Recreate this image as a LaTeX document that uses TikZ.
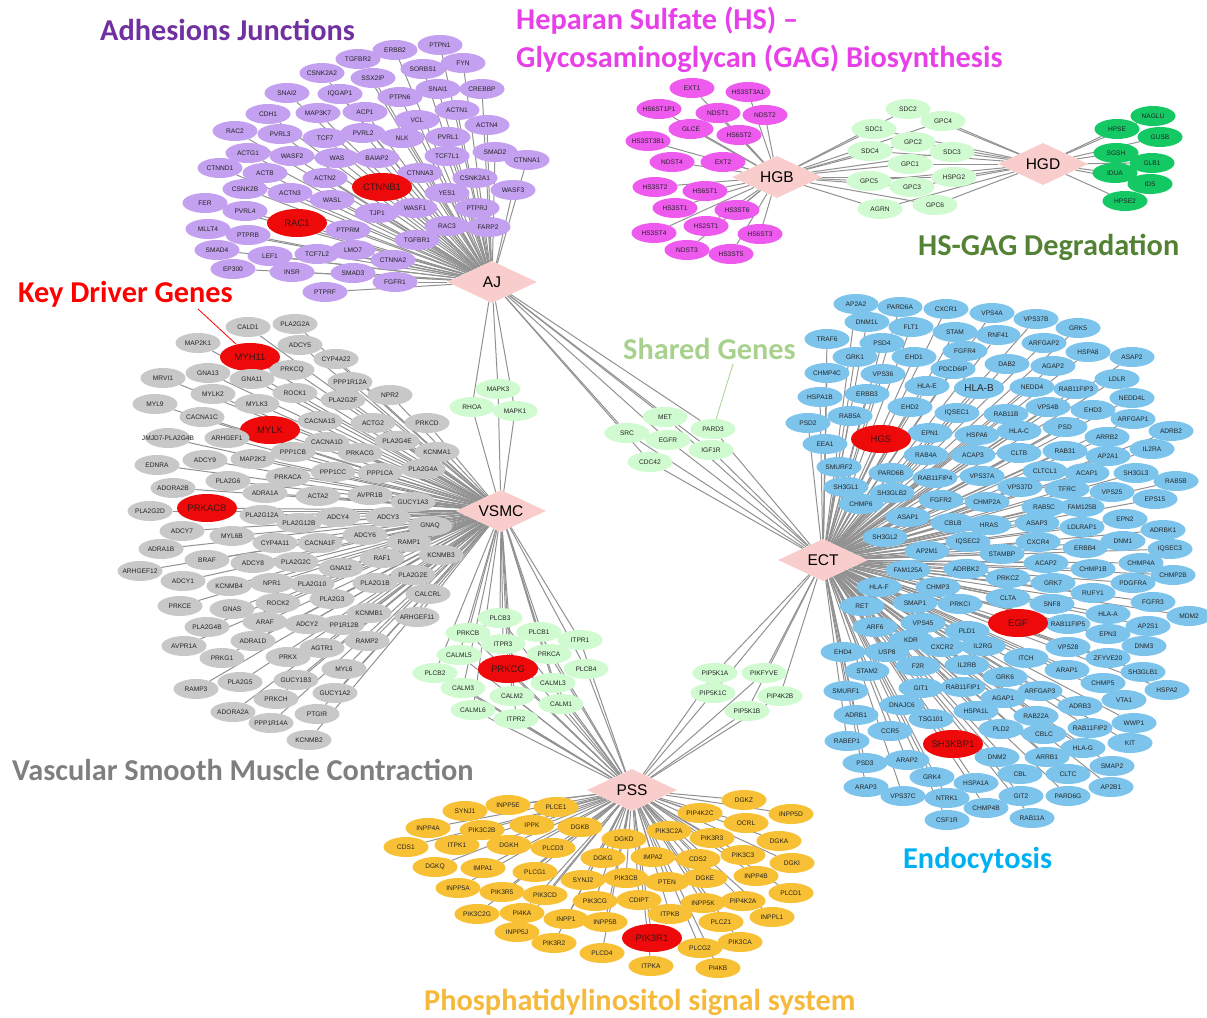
\documentclass[tikz,border=0pt]{standalone}
\usepackage{fontspec}
\setmainfont{Liberation Sans}
\newfontfamily\titlefont{Carlito}
\usetikzlibrary{shapes.geometric,backgrounds}
\definecolor{ajc}{RGB}{196,160,240}
\definecolor{hsc}{RGB}{238,90,238}
\definecolor{lgc}{RGB}{208,250,208}
\definecolor{dgc}{RGB}{20,200,100}
\definecolor{vsc}{RGB}{200,200,200}
\definecolor{ecc}{RGB}{125,196,236}
\definecolor{psc}{RGB}{248,192,52}
\definecolor{kdc}{RGB}{238,10,10}
\definecolor{hubc}{RGB}{250,205,205}
\definecolor{edgec}{RGB}{145,145,145}
\definecolor{ajt}{RGB}{112,48,160}
\definecolor{hst}{RGB}{232,64,232}
\definecolor{dgt}{RGB}{84,130,53}
\definecolor{kdt}{RGB}{255,0,0}
\definecolor{sgt}{RGB}{169,209,142}
\definecolor{vst}{RGB}{127,127,127}
\definecolor{ect}{RGB}{0,176,240}
\definecolor{pst}{RGB}{245,185,60}
\tikzset{
  gene/.style={ellipse, draw=none, minimum width=45pt, minimum height=20pt, inner sep=0pt},
  aj/.style={gene, fill=ajc},
  hs/.style={gene, fill=hsc},
  lg/.style={gene, fill=lgc},
  dg/.style={gene, fill=dgc},
  vs/.style={gene, fill=vsc},
  ec/.style={gene, fill=ecc},
  ps/.style={gene, fill=psc},
  kdnode/.style={ellipse, fill=kdc, minimum width=60pt, minimum height=28pt, inner sep=0pt},
  gt/.style={font=\fontsize{6.6}{7}\selectfont, inner sep=0pt, text={rgb,255:red,35;green,35;blue,35}},
  kt/.style={font=\fontsize{9.5}{10}\selectfont, inner sep=0pt, text={rgb,255:red,60;green,20;blue,20}},
  hub/.style={diamond, aspect=2, fill=hubc, minimum width=90pt, minimum height=42pt, inner sep=0pt, font=\fontsize{15.5}{16}\selectfont},
  edge/.style={draw=edgec, line width=1pt},
  title/.style={anchor=base west, inner sep=0pt, font=\titlefont\bfseries\fontsize{30.3}{31}\selectfont},
}
\makeatletter
\gdef\edgelist{}
\newcommand\addedge[2]{\edef\tmpedge{\noexpand\draw[edge] (#1) -- (#2);}\expandafter\g@addto@macro\expandafter\edgelist\expandafter{\tmpedge}}
\makeatother
\newcommand\gnode[5]{%
  \node[#1] (#4) at (#2,#3) {};
  \node[gt] at (#2,#3) {#4};
  \foreach \hb in {#5}{\addedge{\hb}{#4}}}
\newcommand\knode[4]{%
  \node[kdnode] (#3) at (#1,#2) {};
  \node[kt] at (#1,#2) {#3};
  \foreach \hb in {#4}{\addedge{\hb}{#3}}}
\begin{document}
\begin{tikzpicture}[x=1pt,y=-1pt]
\useasboundingbox (0,0) rectangle (1207,1017);
% hubs
\node[hub] (AJ) at (492,282) {AJ};
\node[hub] (HGB) at (777,177) {HGB};
\node[hub] (HGD) at (1043,164) {HGD};
\node[hub] (VSMC) at (501,511) {VSMC};
\node[hub] (ECT) at (823,560) {ECT};
\node[hub] (PSS) at (632,790) {PSS};
% titles
\node[title, text=ajt] (tAJ) at (100,40) {Adhesions Junctions};
\node[title, text=hst] (tHS1) at (516,29) {Heparan Sulfate (HS) –};
\node[title, text=hst] (tHS2) at (516,67) {Glycosaminoglycan (GAG) Biosynthesis};
\node[title, text=dgt] (tHD) at (918,255) {HS-GAG Degradation};
\node[title, text=kdt] (tKD) at (18,302) {Key Driver Genes};
\node[title, text=sgt] (tSG) at (623,359) {Shared Genes};
\node[title, text=vst] (tVS) at (12,780) {Vascular Smooth Muscle Contraction};
\node[title, text=ect] (tEC) at (903,868) {Endocytosis};
\node[title, text=pst] (tPS) at (424,1010) {Phosphatidylinositol signal system};
% AJ
\gnode{aj}{440}{45}{PTPN1}{AJ}
\gnode{aj}{395}{50}{ERBB2}{AJ}
\gnode{aj}{463}{63}{FYN}{AJ}
\gnode{aj}{358}{59}{TGFBR2}{AJ}
\gnode{aj}{423}{69}{SORBS1}{AJ}
\gnode{aj}{322}{73}{CSNK2A2}{AJ}
\gnode{aj}{373}{78}{SSX2IP}{AJ}
\gnode{aj}{438}{89}{SNAI1}{AJ}
\gnode{aj}{482}{89}{CREBBP}{AJ}
\gnode{aj}{287}{93}{SNAI2}{AJ}
\gnode{aj}{340}{94}{IQGAP1}{AJ}
\gnode{aj}{400}{97}{PTPN6}{AJ}
\gnode{aj}{268}{114}{CDH1}{AJ}
\gnode{aj}{318}{113}{MAP3K7}{AJ}
\gnode{aj}{365}{112}{ACP1}{AJ}
\gnode{aj}{457}{110}{ACTN1}{AJ}
\gnode{aj}{417}{120}{VCL}{AJ}
\gnode{aj}{487}{125}{ACTN4}{AJ}
\gnode{aj}{235}{131}{RAC2}{AJ}
\gnode{aj}{280}{134}{PVRL3}{AJ}
\gnode{aj}{325}{138}{TCF7}{AJ}
\gnode{aj}{363}{133}{PVRL2}{AJ}
\gnode{aj}{402}{138}{NLK}{AJ}
\gnode{aj}{448}{137}{PVRL1}{AJ}
\gnode{aj}{495}{152}{SMAD2}{AJ}
\gnode{aj}{527}{160}{CTNNA1}{AJ}
\gnode{aj}{248}{153}{ACTG1}{AJ}
\gnode{aj}{292}{156}{WASF2}{AJ}
\gnode{aj}{337}{158}{WAS}{AJ}
\gnode{aj}{377}{158}{BAIAP2}{AJ}
\gnode{aj}{447}{156}{TCF7L1}{AJ}
\gnode{aj}{220}{168}{CTNND1}{AJ}
\gnode{aj}{265}{173}{ACTB}{AJ}
\gnode{aj}{325}{178}{ACTN2}{AJ}
\gnode{aj}{420}{173}{CTNNA3}{AJ}
\gnode{aj}{475}{178}{CSNK2A1}{AJ}
\gnode{aj}{513}{190}{WASF3}{AJ}
\knode{382}{187}{CTNNB1}{AJ}
\gnode{aj}{245}{189}{CSNK2B}{AJ}
\gnode{aj}{290}{193}{ACTN3}{AJ}
\gnode{aj}{332}{200}{WASL}{AJ}
\gnode{aj}{447}{193}{YES1}{AJ}
\gnode{aj}{205}{203}{FER}{AJ}
\gnode{aj}{245}{211}{PVRL4}{AJ}
\knode{297}{223}{RAC1}{AJ}
\gnode{aj}{415}{208}{WASF1}{AJ}
\gnode{aj}{477}{208}{PTPRJ}{AJ}
\gnode{aj}{377}{213}{TJP1}{AJ}
\gnode{aj}{208}{229}{MLLT4}{AJ}
\gnode{aj}{248}{235}{PTPRB}{AJ}
\gnode{aj}{348}{230}{PTPRM}{AJ}
\gnode{aj}{447}{226}{RAC3}{AJ}
\gnode{aj}{488}{227}{FARP2}{AJ}
\gnode{aj}{417}{240}{TGFBR1}{AJ}
\gnode{aj}{217}{250}{SMAD4}{AJ}
\gnode{aj}{270}{256}{LEF1}{AJ}
\gnode{aj}{317}{254}{TCF7L2}{AJ}
\gnode{aj}{353}{250}{LMO7}{AJ}
\gnode{aj}{393}{260}{CTNNA2}{AJ}
\gnode{aj}{233}{269}{EP300}{AJ}
\gnode{aj}{292}{272}{INSR}{AJ}
\gnode{aj}{353}{273}{SMAD3}{AJ}
\gnode{aj}{395}{282}{FGFR1}{AJ}
\gnode{aj}{325}{292}{PTPRF}{AJ}
% HGB
\gnode{hs}{692}{88}{EXT1}{HGB}
\gnode{hs}{748}{92}{HS3ST3A1}{HGB}
\gnode{hs}{659}{109}{HS6ST1P1}{HGB}
\gnode{hs}{718}{113}{NDST1}{HGB}
\gnode{hs}{765}{115}{NDST2}{HGB}
\gnode{hs}{691}{129}{GLCE}{HGB}
\gnode{hs}{739}{135}{HS6ST2}{HGB}
\gnode{hs}{648}{141}{HS3ST3B1}{HGB}
\gnode{hs}{672}{162}{NDST4}{HGB}
\gnode{hs}{723}{162}{EXT2}{HGB}
\gnode{hs}{655}{187}{HS3ST2}{HGB}
\gnode{hs}{705}{191}{HS6ST1}{HGB}
\gnode{hs}{675}{208}{HS3ST1}{HGB}
\gnode{hs}{737}{210}{HS3ST6}{HGB}
\gnode{hs}{706}{226}{HS2ST1}{HGB}
\gnode{hs}{654}{233}{HS3ST4}{HGB}
\gnode{hs}{760}{234}{HS6ST3}{HGB}
\gnode{hs}{687}{250}{NDST3}{HGB}
\gnode{hs}{731}{254}{HS3ST5}{HGB}
% shared HGB-HGD
\gnode{lg}{874}{129}{SDC1}{HGB,HGD}
\gnode{lg}{870}{151}{SDC4}{HGB,HGD}
\gnode{lg}{869}{181}{GPC5}{HGB,HGD}
\gnode{lg}{880}{209}{AGRN}{HGB,HGD}
\gnode{lg}{908}{109}{SDC2}{HGB,HGD}
\gnode{lg}{943}{121}{GPC4}{HGB,HGD}
\gnode{lg}{913}{142}{GPC2}{HGB,HGD}
\gnode{lg}{952}{152}{SDC3}{HGB,HGD}
\gnode{lg}{910}{164}{GPC1}{HGB,HGD}
\gnode{lg}{954}{177}{HSPG2}{HGB,HGD}
\gnode{lg}{912}{187}{GPC3}{HGB,HGD}
\gnode{lg}{935}{205}{GPC6}{HGB,HGD}
% HGD
\gnode{dg}{1117}{129}{HPSE}{HGD}
\gnode{dg}{1153}{116}{NAGLU}{HGD}
\gnode{dg}{1160}{137}{GUSB}{HGD}
\gnode{dg}{1116}{153}{SGSH}{HGD}
\gnode{dg}{1152}{163}{GLB1}{HGD}
\gnode{dg}{1115}{173}{IDUA}{HGD}
\gnode{dg}{1150}{184}{IDS}{HGD}
\gnode{dg}{1125}{201}{HPSE2}{HGD}
% VSMC
\gnode{vs}{248}{327}{CALD1}{VSMC}
\gnode{vs}{295}{324}{PLA2G2A}{VSMC}
\gnode{vs}{198}{343}{MAP2K1}{VSMC}
\knode{250}{357}{MYH11}{VSMC}
\gnode{vs}{300}{345}{ADCY5}{VSMC}
\gnode{vs}{336}{359}{CYP4A22}{VSMC}
\gnode{vs}{163}{378}{MRVI1}{VSMC}
\gnode{vs}{208}{373}{GNA13}{VSMC}
\gnode{vs}{252}{379}{GNA11}{VSMC}
\gnode{vs}{292}{370}{PRKCQ}{VSMC}
\gnode{vs}{350}{382}{PPP1R12A}{VSMC}
\gnode{vs}{213}{394}{MYLK2}{VSMC}
\gnode{vs}{295}{393}{ROCK1}{VSMC}
\gnode{vs}{390}{395}{NPR2}{VSMC}
\gnode{vs}{343}{400}{PLA2G2F}{VSMC}
\gnode{vs}{155}{404}{MYL9}{VSMC}
\gnode{vs}{257}{404}{MYLK3}{VSMC}
\gnode{vs}{202}{417}{CACNA1C}{VSMC}
\knode{270}{430}{MYLK}{VSMC}
\gnode{vs}{320}{421}{CACNA1S}{VSMC}
\gnode{vs}{373}{423}{ACTG2}{VSMC}
\gnode{vs}{427}{423}{PRKCD}{VSMC}
\gnode{vs}{168}{438}{JMJD7-PLA2G4B}{VSMC}
\gnode{vs}{227}{438}{ARHGEF1}{VSMC}
\gnode{vs}{327}{442}{CACNA1D}{VSMC}
\gnode{vs}{397}{441}{PLA2G4E}{VSMC}
\gnode{vs}{437}{452}{KCNMA1}{VSMC}
\gnode{vs}{293}{452}{PPP1CB}{VSMC}
\gnode{vs}{360}{453}{PRKACG}{VSMC}
\gnode{vs}{253}{459}{MAP2K2}{VSMC}
\gnode{vs}{205}{460}{ADCY9}{VSMC}
\gnode{vs}{157}{465}{EDNRA}{VSMC}
\gnode{vs}{333}{472}{PPP1CC}{VSMC}
\gnode{vs}{380}{473}{PPP1CA}{VSMC}
\gnode{vs}{423}{469}{PLA2G4A}{VSMC}
\gnode{vs}{288}{477}{PRKACA}{VSMC}
\gnode{vs}{228}{481}{PLA2G6}{VSMC}
\gnode{vs}{173}{488}{ADORA2B}{VSMC}
\gnode{vs}{265}{493}{ADRA1A}{VSMC}
\gnode{vs}{318}{496}{ACTA2}{VSMC}
\gnode{vs}{370}{495}{AVPR1B}{VSMC}
\gnode{vs}{413}{502}{GUCY1A3}{VSMC}
\gnode{vs}{150}{511}{PLA2G2D}{VSMC}
\knode{207}{508}{PRKACB}{VSMC}
\gnode{vs}{262}{515}{PLA2G12A}{VSMC}
\gnode{vs}{299}{523}{PLA2G12B}{VSMC}
\gnode{vs}{338}{517}{ADCY4}{VSMC}
\gnode{vs}{388}{517}{ADCY3}{VSMC}
\gnode{vs}{430}{526}{GNAQ}{VSMC}
\gnode{vs}{182}{531}{ADCY7}{VSMC}
\gnode{vs}{232}{536}{MYL6B}{VSMC}
\gnode{vs}{275}{543}{CYP4A11}{VSMC}
\gnode{vs}{320}{543}{CACNA1F}{VSMC}
\gnode{vs}{365}{535}{ADCY6}{VSMC}
\gnode{vs}{409}{542}{RAMP1}{VSMC}
\gnode{vs}{441}{555}{KCNMB3}{VSMC}
\gnode{vs}{161}{549}{ADRA1B}{VSMC}
\gnode{vs}{207}{560}{BRAF}{VSMC}
\gnode{vs}{253}{563}{ADCY8}{VSMC}
\gnode{vs}{296}{562}{PLA2G2C}{VSMC}
\gnode{vs}{382}{558}{RAF1}{VSMC}
\gnode{vs}{341}{568}{GNA12}{VSMC}
\gnode{vs}{140}{571}{ARHGEF12}{VSMC}
\gnode{vs}{413}{575}{PLA2G2E}{VSMC}
\gnode{vs}{183}{581}{ADCY1}{VSMC}
\gnode{vs}{229}{586}{KCNMB4}{VSMC}
\gnode{vs}{272}{583}{NPR1}{VSMC}
\gnode{vs}{312}{584}{PLA2G10}{VSMC}
\gnode{vs}{375}{583}{PLA2G1B}{VSMC}
\gnode{vs}{428}{594}{CALCRL}{VSMC}
\gnode{vs}{180}{606}{PRKCE}{VSMC}
\gnode{vs}{232}{609}{GNAS}{VSMC}
\gnode{vs}{278}{603}{ROCK2}{VSMC}
\gnode{vs}{332}{599}{PLA2G3}{VSMC}
\gnode{vs}{342}{625}{PPP1R12B}{VSMC}
\gnode{vs}{369}{613}{KCNMB1}{VSMC}
\gnode{vs}{417}{617}{ARHGEF11}{VSMC}
\gnode{vs}{207}{627}{PLA2G4B}{VSMC}
\gnode{vs}{265}{622}{ARAF}{VSMC}
\gnode{vs}{307}{624}{ADCY2}{VSMC}
\gnode{vs}{184}{646}{AVPR1A}{VSMC}
\gnode{vs}{253}{641}{ADRA1D}{VSMC}
\gnode{vs}{322}{648}{AGTR1}{VSMC}
\gnode{vs}{367}{641}{RAMP2}{VSMC}
\gnode{vs}{222}{658}{PRKG1}{VSMC}
\gnode{vs}{288}{657}{PRKX}{VSMC}
\gnode{vs}{344}{669}{MYL6}{VSMC}
\gnode{vs}{196}{689}{RAMP3}{VSMC}
\gnode{vs}{240}{682}{PLA2G5}{VSMC}
\gnode{vs}{296}{680}{GUCY1B3}{VSMC}
\gnode{vs}{335}{693}{GUCY1A2}{VSMC}
\gnode{vs}{276}{699}{PRKCH}{VSMC}
\gnode{vs}{233}{712}{ADORA2A}{VSMC}
\gnode{vs}{317}{714}{PTGIR}{VSMC}
\gnode{vs}{271}{723}{PPP1R14A}{VSMC}
\gnode{vs}{309}{740}{KCNMB2}{VSMC}
% shared AJ-VSMC
\gnode{lg}{498}{389}{MAPK3}{AJ,VSMC}
\gnode{lg}{472}{407}{RHOA}{AJ,VSMC}
\gnode{lg}{515}{411}{MAPK1}{AJ,VSMC}
% shared AJ-ECT
\gnode{lg}{665}{417}{MET}{AJ,ECT}
\gnode{lg}{627}{433}{SRC}{AJ,ECT}
\gnode{lg}{713}{429}{PARD3}{AJ,ECT}
\gnode{lg}{668}{440}{EGFR}{AJ,ECT}
\gnode{lg}{711}{450}{IGF1R}{AJ,ECT}
\gnode{lg}{650}{462}{CDC42}{AJ,ECT}
% shared VSMC-PSS
\gnode{lg}{500}{618}{PLCB3}{VSMC,PSS}
\gnode{lg}{468}{633}{PRKCB}{VSMC,PSS}
\gnode{lg}{539}{632}{PLCB1}{VSMC,PSS}
\gnode{lg}{580}{640}{ITPR1}{VSMC,PSS}
\gnode{lg}{503}{644}{ITPR3}{VSMC,PSS}
\gnode{lg}{459}{655}{CALML5}{VSMC,PSS}
\gnode{lg}{549}{654}{PRKCA}{VSMC,PSS}
\gnode{lg}{586}{669}{PLCB4}{VSMC,PSS}
\gnode{lg}{435}{673}{PLCB2}{VSMC,PSS}
\gnode{lg}{553}{683}{CALML3}{VSMC,PSS}
\gnode{lg}{463}{688}{CALM3}{VSMC,PSS}
\gnode{lg}{512}{696}{CALM2}{VSMC,PSS}
\gnode{lg}{561}{704}{CALM1}{VSMC,PSS}
\gnode{lg}{473}{710}{CALML6}{VSMC,PSS}
\gnode{lg}{516}{719}{ITPR2}{VSMC,PSS}
\knode{508}{669}{PRKCG}{VSMC,PSS}
% shared ECT-PSS
\gnode{lg}{715}{673}{PIP5K1A}{ECT,PSS}
\gnode{lg}{764}{673}{PIKFYVE}{ECT,PSS}
\gnode{lg}{713}{693}{PIP5K1C}{ECT,PSS}
\gnode{lg}{780}{696}{PIP4K2B}{ECT,PSS}
\gnode{lg}{747}{711}{PIP5K1B}{ECT,PSS}
% ECT
\gnode{ec}{856}{304}{AP2A2}{ECT}
\gnode{ec}{900}{307}{PARD6A}{ECT}
\gnode{ec}{946}{309}{CXCR1}{ECT}
\gnode{ec}{992}{313}{VPS4A}{ECT}
\gnode{ec}{1036}{319}{VPS37B}{ECT}
\gnode{ec}{867}{322}{DNM1L}{ECT}
\gnode{ec}{911}{327}{FLT1}{ECT}
\gnode{ec}{955}{332}{STAM}{ECT}
\gnode{ec}{998}{335}{RNF41}{ECT}
\gnode{ec}{1078}{328}{GRK5}{ECT}
\gnode{ec}{827}{339}{TRAF6}{ECT}
\gnode{ec}{882}{343}{PSD4}{ECT}
\gnode{ec}{1044}{343}{ARFGAP2}{ECT}
\gnode{ec}{965}{351}{FGFR4}{ECT}
\gnode{ec}{1088}{352}{HSPA8}{ECT}
\gnode{ec}{914}{357}{EHD1}{ECT}
\gnode{ec}{855}{357}{GRK1}{ECT}
\gnode{ec}{1132}{357}{ASAP2}{ECT}
\gnode{ec}{1007}{364}{DAB2}{ECT}
\gnode{ec}{1053}{366}{AGAP2}{ECT}
\gnode{ec}{953}{369}{PDCD6IP}{ECT}
\gnode{ec}{827}{373}{CHMP4C}{ECT}
\gnode{ec}{883}{374}{VPS36}{ECT}
\gnode{ec}{1117}{379}{LDLR}{ECT}
\gnode{ec}{927}{386}{HLA-E}{ECT}
\node[ec, minimum width=50pt, minimum height=22pt] (HLA-B) at (979,388) {};
\node[font=\fontsize{10}{11}\selectfont, inner sep=0pt, text={rgb,255:red,40;green,40;blue,40}] at (979,388) {HLA-B};
\addedge{ECT}{HLA-B}
\gnode{ec}{1032}{387}{NEDD4}{ECT}
\gnode{ec}{1076}{389}{RAB11FIP3}{ECT}
\gnode{ec}{820}{397}{HSPA1B}{ECT}
\gnode{ec}{867}{394}{ERBB3}{ECT}
\gnode{ec}{1132}{398}{NEDD4L}{ECT}
\gnode{ec}{910}{407}{EHD2}{ECT}
\gnode{ec}{957}{413}{IQSEC1}{ECT}
\gnode{ec}{1048}{407}{VPS4B}{ECT}
\gnode{ec}{1093}{410}{EHD3}{ECT}
\gnode{ec}{1006}{414}{RAB11B}{ECT}
\gnode{ec}{808}{423}{PSD2}{ECT}
\gnode{ec}{850}{416}{RAB5A}{ECT}
\gnode{ec}{1133}{419}{ARFGAP1}{ECT}
\gnode{ec}{1065}{427}{PSD}{ECT}
\gnode{ec}{930}{433}{EPN1}{ECT}
\gnode{ec}{977}{435}{HSPA6}{ECT}
\gnode{ec}{1019}{431}{HLA-C}{ECT}
\gnode{ec}{1171}{431}{ADRB2}{ECT}
\gnode{ec}{1107}{437}{ARRB2}{ECT}
\gnode{ec}{825}{444}{EEA1}{ECT}
\knode{881}{439}{HGS}{ECT}
\gnode{ec}{926}{455}{RAB4A}{ECT}
\gnode{ec}{973}{455}{ACAP3}{ECT}
\gnode{ec}{1019}{453}{CLTB}{ECT}
\gnode{ec}{1065}{451}{RAB31}{ECT}
\gnode{ec}{1108}{456}{AP2A1}{ECT}
\gnode{ec}{1152}{449}{IL2RA}{ECT}
\gnode{ec}{839}{467}{SMURF2}{ECT}
\gnode{ec}{891}{473}{PARD6B}{ECT}
\gnode{ec}{935}{478}{RAB11FIP4}{ECT}
\gnode{ec}{982}{476}{VPS37A}{ECT}
\gnode{ec}{1045}{471}{CLTCL1}{ECT}
\gnode{ec}{1087}{473}{ACAP1}{ECT}
\gnode{ec}{1136}{473}{SH3GL3}{ECT}
\gnode{ec}{1176}{481}{RAB5B}{ECT}
\gnode{ec}{846}{487}{SH3GL1}{ECT}
\gnode{ec}{1020}{487}{VPS37D}{ECT}
\gnode{ec}{1067}{489}{TFRC}{ECT}
\gnode{ec}{892}{493}{SH3GLB2}{ECT}
\gnode{ec}{1112}{492}{VPS25}{ECT}
\gnode{ec}{1155}{499}{EPS15}{ECT}
\gnode{ec}{861}{504}{CHMP6}{ECT}
\gnode{ec}{941}{500}{FGFR2}{ECT}
\gnode{ec}{987}{502}{CHMP2A}{ECT}
\gnode{ec}{1044}{507}{RAB5C}{ECT}
\gnode{ec}{1082}{507}{FAM125B}{ECT}
\gnode{ec}{908}{517}{ASAP1}{ECT}
\gnode{ec}{953}{523}{CBLB}{ECT}
\gnode{ec}{989}{525}{HRAS}{ECT}
\gnode{ec}{1037}{523}{ASAP3}{ECT}
\gnode{ec}{1082}{527}{LDLRAP1}{ECT}
\gnode{ec}{1125}{519}{EPN2}{ECT}
\gnode{ec}{1163}{530}{ADRBK1}{ECT}
\gnode{ec}{885}{537}{SH3GL2}{ECT}
\gnode{ec}{968}{542}{IQSEC2}{ECT}
\gnode{ec}{1038}{542}{CXCR4}{ECT}
\gnode{ec}{1123}{541}{DNM1}{ECT}
\gnode{ec}{1085}{548}{ERBB4}{ECT}
\gnode{ec}{1170}{549}{IQSEC3}{ECT}
\gnode{ec}{927}{551}{AP2M1}{ECT}
\gnode{ec}{1002}{554}{STAMBP}{ECT}
\gnode{ec}{1046}{563}{ACAP2}{ECT}
\gnode{ec}{1141}{563}{CHMP4A}{ECT}
\gnode{ec}{908}{570}{FAM125A}{ECT}
\gnode{ec}{966}{569}{ADRBK2}{ECT}
\gnode{ec}{1093}{569}{CHMP1B}{ECT}
\gnode{ec}{1173}{575}{CHMP2B}{ECT}
\gnode{ec}{1008}{578}{PRKCZ}{ECT}
\gnode{ec}{1053}{583}{GRK7}{ECT}
\gnode{ec}{1133}{583}{PDGFRA}{ECT}
\gnode{ec}{879}{587}{HLA-F}{ECT}
\gnode{ec}{938}{587}{CHMP3}{ECT}
\gnode{ec}{1093}{593}{RUFY1}{ECT}
\gnode{ec}{915}{603}{SMAP1}{ECT}
\gnode{ec}{960}{604}{PRKCI}{ECT}
\gnode{ec}{1008}{598}{CLTA}{ECT}
\gnode{ec}{1052}{604}{SNF8}{ECT}
\gnode{ec}{1153}{602}{FGFR3}{ECT}
\gnode{ec}{862}{606}{RET}{ECT}
\gnode{ec}{1108}{614}{HLA-A}{ECT}
\gnode{ec}{1189}{616}{MDM2}{ECT}
\gnode{ec}{875}{627}{ARF6}{ECT}
\gnode{ec}{923}{623}{VPS45}{ECT}
\gnode{ec}{1068}{624}{RAB11FIP5}{ECT}
\gnode{ec}{1148}{626}{AP2S1}{ECT}
\gnode{ec}{967}{631}{PLD1}{ECT}
\knode{1018}{623}{EGF}{ECT}
\gnode{ec}{1108}{634}{EPN3}{ECT}
\gnode{ec}{911}{640}{KDR}{ECT}
\gnode{ec}{983}{646}{IL2RG}{ECT}
\gnode{ec}{942}{647}{CXCR2}{ECT}
\gnode{ec}{1068}{647}{VPS28}{ECT}
\gnode{ec}{1144}{646}{DNM3}{ECT}
\gnode{ec}{843}{652}{EHD4}{ECT}
\gnode{ec}{887}{652}{USP8}{ECT}
\gnode{ec}{1026}{658}{ITCH}{ECT}
\gnode{ec}{1108}{658}{ZFYVE20}{ECT}
\gnode{ec}{1143}{672}{SH3GLB1}{ECT}
\gnode{ec}{1167}{690}{HSPA2}{ECT}
\gnode{ec}{867}{671}{STAM2}{ECT}
\gnode{ec}{918}{666}{F2R}{ECT}
\gnode{ec}{967}{665}{IL2RB}{ECT}
\gnode{ec}{1067}{670}{ARAP1}{ECT}
\gnode{ec}{1005}{677}{GRK6}{ECT}
\gnode{ec}{1103}{683}{CHMP5}{ECT}
\gnode{ec}{846}{691}{SMURF1}{ECT}
\gnode{ec}{921}{688}{GIT1}{ECT}
\gnode{ec}{963}{687}{RAB11FIP1}{ECT}
\gnode{ec}{1040}{691}{ARFGAP3}{ECT}
\gnode{ec}{1003}{698}{AGAP1}{ECT}
\gnode{ec}{1124}{700}{VTA1}{ECT}
\gnode{ec}{902}{705}{DNAJC6}{ECT}
\gnode{ec}{1080}{706}{ADRB3}{ECT}
\gnode{ec}{856}{715}{ADRB1}{ECT}
\gnode{ec}{976}{711}{HSPA1L}{ECT}
\gnode{ec}{1036}{716}{RAB22A}{ECT}
\gnode{ec}{1134}{723}{WWP1}{ECT}
\gnode{ec}{931}{719}{TSG101}{ECT}
\gnode{ec}{1090}{728}{RAB11FIP2}{ECT}
\gnode{ec}{890}{731}{CCR5}{ECT}
\gnode{ec}{1001}{729}{PLD2}{ECT}
\gnode{ec}{1044}{734}{CBLC}{ECT}
\gnode{ec}{1130}{743}{KIT}{ECT}
\gnode{ec}{847}{741}{RABEP1}{ECT}
\gnode{ec}{1083}{748}{HLA-G}{ECT}
\gnode{ec}{997}{757}{DNM2}{ECT}
\gnode{ec}{1047}{757}{ARRB1}{ECT}
\gnode{ec}{865}{763}{PSD3}{ECT}
\gnode{ec}{907}{760}{ARAP2}{ECT}
\gnode{ec}{1112}{766}{SMAP2}{ECT}
\knode{953}{744}{SH3KBP1}{ECT}
\gnode{ec}{932}{777}{GRK4}{ECT}
\gnode{ec}{1020}{774}{CBL}{ECT}
\gnode{ec}{1068}{774}{CLTC}{ECT}
\gnode{ec}{976}{783}{HSPA1A}{ECT}
\gnode{ec}{866}{787}{ARAP3}{ECT}
\gnode{ec}{1111}{787}{AP2B1}{ECT}
\gnode{ec}{903}{796}{VPS37C}{ECT}
\gnode{ec}{947}{798}{NTRK1}{ECT}
\gnode{ec}{1021}{796}{GIT2}{ECT}
\gnode{ec}{1068}{796}{PARD6G}{ECT}
\gnode{ec}{986}{808}{CHMP4B}{ECT}
\gnode{ec}{947}{820}{CSF1R}{ECT}
\gnode{ec}{1032}{818}{RAB11A}{ECT}
% PSS
\gnode{ps}{465}{811}{SYNJ1}{PSS}
\gnode{ps}{508}{805}{INPP5E}{PSS}
\gnode{ps}{556}{807}{PLCE1}{PSS}
\gnode{ps}{744}{800}{DGKZ}{PSS}
\gnode{ps}{791}{814}{INPP5D}{PSS}
\gnode{ps}{700}{813}{PIP4K2C}{PSS}
\gnode{ps}{746}{823}{OCRL}{PSS}
\gnode{ps}{428}{828}{INPP4A}{PSS}
\gnode{ps}{482}{830}{PIK3C2B}{PSS}
\gnode{ps}{532}{825}{IPPK}{PSS}
\gnode{ps}{580}{827}{DGKB}{PSS}
\gnode{ps}{669}{831}{PIK3C2A}{PSS}
\gnode{ps}{712}{838}{PIK3R3}{PSS}
\gnode{ps}{779}{841}{DGKA}{PSS}
\gnode{ps}{406}{847}{CDS1}{PSS}
\gnode{ps}{457}{845}{ITPK1}{PSS}
\gnode{ps}{509}{845}{DGKH}{PSS}
\gnode{ps}{553}{848}{PLCD3}{PSS}
\gnode{ps}{624}{839}{DGKD}{PSS}
\gnode{ps}{603}{858}{DGKG}{PSS}
\gnode{ps}{653}{857}{IMPA2}{PSS}
\gnode{ps}{698}{859}{CDS2}{PSS}
\gnode{ps}{743}{855}{PIK3C3}{PSS}
\gnode{ps}{792}{863}{DGKI}{PSS}
\gnode{ps}{435}{867}{DGKQ}{PSS}
\gnode{ps}{483}{868}{IMPA1}{PSS}
\gnode{ps}{535}{872}{PLCG1}{PSS}
\gnode{ps}{756}{876}{INPP4B}{PSS}
\gnode{ps}{583}{880}{SYNJ2}{PSS}
\gnode{ps}{626}{878}{PIK3CB}{PSS}
\gnode{ps}{667}{882}{PTEN}{PSS}
\gnode{ps}{705}{878}{DGKE}{PSS}
\gnode{ps}{458}{888}{INPP5A}{PSS}
\gnode{ps}{502}{892}{PIK3R5}{PSS}
\gnode{ps}{545}{895}{PIK3CD}{PSS}
\gnode{ps}{791}{893}{PLCD1}{PSS}
\gnode{ps}{595}{901}{PIK3CG}{PSS}
\gnode{ps}{639}{900}{CDIPT}{PSS}
\gnode{ps}{703}{903}{INPP5K}{PSS}
\gnode{ps}{743}{901}{PIP4K2A}{PSS}
\gnode{ps}{477}{914}{PIK3C2G}{PSS}
\gnode{ps}{522}{913}{PI4KA}{PSS}
\gnode{ps}{566}{919}{INPP1}{PSS}
\gnode{ps}{670}{914}{ITPKB}{PSS}
\gnode{ps}{721}{922}{PLCZ1}{PSS}
\gnode{ps}{772}{917}{INPPL1}{PSS}
\gnode{ps}{605}{922}{INPP5B}{PSS}
\gnode{ps}{517}{932}{INPP5J}{PSS}
\gnode{ps}{554}{943}{PIK3R2}{PSS}
\gnode{ps}{700}{948}{PLCG2}{PSS}
\gnode{ps}{740}{942}{PIK3CA}{PSS}
\gnode{ps}{602}{953}{PLCD4}{PSS}
\gnode{ps}{651}{966}{ITPKA}{PSS}
\gnode{ps}{718}{968}{PI4KB}{PSS}
\knode{652}{938}{PIK3R1}{PSS}
% all connectors, behind the nodes
\begin{scope}[on background layer]
\edgelist
\end{scope}
% pointer lines
\coordinate (kdl) at (198,309);
\draw[kdt, line width=0.8pt] (kdl) -- (MYH11);
\coordinate (sgl) at (733,364);
\draw[sgt, line width=0.8pt] (sgl) -- (PARD3);
\end{tikzpicture}
\end{document}
